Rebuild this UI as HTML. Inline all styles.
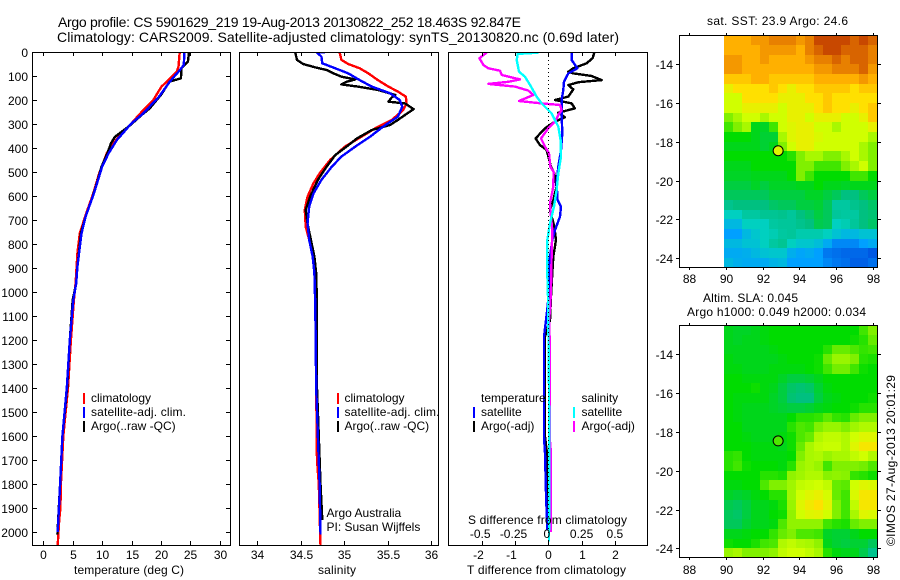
<!DOCTYPE html>
<html>
<head>
<meta charset="utf-8">
<title>Argo profile</title>
<style>
html,body{margin:0;padding:0;background:#fff;}
svg{display:block;}
text{font-family:"Liberation Sans",sans-serif;font-size:12px;fill:#000;}
</style>
</head>
<body>
<svg id="chart" width="900" height="580" viewBox="0 0 900 580" xmlns="http://www.w3.org/2000/svg">
  <defs>
    <clipPath id="clip-t"><rect x="32" y="52" width="199" height="493"/></clipPath>
    <clipPath id="clip-s"><rect x="239" y="52" width="200" height="493"/></clipPath>
    <clipPath id="clip-d"><rect x="448" y="52" width="200" height="493"/></clipPath>
    <clipPath id="clip-m1"><rect x="679" y="35" width="198" height="232"/></clipPath>
    <clipPath id="clip-m2"><rect x="679" y="325" width="198" height="232"/></clipPath>
  </defs>

  <text x="58" y="27" style="font-size:14px" textLength="463" lengthAdjust="spacing">Argo profile: CS 5901629_219 19-Aug-2013 20130822_252 18.463S 92.847E</text>
  <text x="57" y="42" style="font-size:14px" textLength="562" lengthAdjust="spacing">Climatology: CARS2009. Satellite-adjusted climatology: synTS_20130820.nc (0.69d later)</text>

  <g id="layer-maps"></g>
  <g id="layer-series"></g>
  <g id="layer-axes"></g>

  <text x="74" y="574" textLength="110" lengthAdjust="spacing">temperature (deg C)</text>
  <text x="318" y="574" textLength="38" lengthAdjust="spacing">salinity</text>
  <text x="467" y="574" textLength="159" lengthAdjust="spacing">T difference from climatology</text>
  <text x="468" y="524" textLength="159" lengthAdjust="spacing">S difference from climatology</text>

  <g>
    <rect x="83" y="393" width="2" height="11" fill="#f00"/>
    <text x="91" y="402">climatology</text>
    <rect x="83" y="407" width="2" height="11" fill="#00f"/>
    <text x="91" y="416" textLength="95" lengthAdjust="spacing">satellite-adj. clim.</text>
    <rect x="83" y="421" width="2" height="11" fill="#000"/>
    <text x="91" y="430">Argo(..raw -QC)</text>
  </g>
  <g>
    <rect x="337" y="393" width="2" height="11" fill="#f00"/>
    <text x="344.500" y="402">climatology</text>
    <rect x="337" y="407" width="2" height="11" fill="#00f"/>
    <text x="344.500" y="416" textLength="95" lengthAdjust="spacing">satellite-adj. clim.</text>
    <rect x="337" y="421" width="2" height="11" fill="#000"/>
    <text x="344.500" y="430">Argo(..raw -QC)</text>
  </g>
  <text x="326.500" y="517">Argo Australia</text>
  <text x="326.500" y="531">PI: Susan Wijffels</text>

  <g>
    <text x="481" y="402">temperature</text>
    <rect x="473" y="407" width="2" height="11" fill="#00f"/>
    <text x="481" y="416">satellite</text>
    <rect x="473" y="421" width="2" height="11" fill="#000"/>
    <text x="481" y="430">Argo(-adj)</text>
    <text x="581.500" y="402">salinity</text>
    <rect x="573" y="407" width="2" height="11" fill="#0ff"/>
    <text x="581.500" y="416">satellite</text>
    <rect x="573" y="421" width="2" height="11" fill="#f0f"/>
    <text x="581.500" y="430">Argo(-adj)</text>
  </g>

  <text x="707" y="25" textLength="141" lengthAdjust="spacing">sat. SST: 23.9 Argo: 24.6</text>
  <text x="703" y="302" textLength="95" lengthAdjust="spacing">Altim. SLA: 0.045</text>
  <text x="687" y="316" textLength="179" lengthAdjust="spacing">Argo h1000: 0.049 h2000: 0.034</text>
  <text transform="translate(895,546) rotate(-90)" textLength="171" lengthAdjust="spacing">©IMOS 27-Aug-2013 20:01:29</text>
</svg>

<script>
/* ---------- profile data ---------- */
const tempClimDepth = [0,61,82,117,144,200,242,297,339,381,422,506,589,672,756,839,964,1033,1200,1400,1600,1800,1900,1950,2055];
const tempClimValue = [23.2,23.0,22.7,21.3,20.1,18.7,17.0,15.0,13.3,11.9,10.8,9.5,8.5,7.3,6.2,5.8,5.5,5.2,4.7,4.2,3.4,3.0,2.9,2.7,2.45];
const tempArgoDepth = [0,40,68,110,123,179,235,263,311,353,381,422,478,547,617,686,756,825,894,964,1033,1200,1400,1600,1800,2010];
const tempArgoValue = [24.8,24.6,23.5,23.4,21.5,20.0,18.1,16.7,14.5,12.2,11.5,10.9,9.9,9.1,8.2,7.2,6.4,6.1,5.8,5.6,5.0,4.5,4.05,3.25,2.85,2.4];
const tempSatDepth = [0,54,82,124,186,256,297,367,422,478,589,686,756,894,964,1033,1200,1400,1600,1800,2000];
const tempSatValue = [24.0,23.9,23.0,21.5,19.7,17.0,15.0,12.5,11.1,10.0,8.6,7.2,6.5,5.8,5.6,5.1,4.5,4.0,3.25,2.85,2.45];

const salArgoDepth = [3,33,50,64,75,89,103,114,124,135,144,158,179,189,207,214,238,258,283,304,325,360,394,429,478,533,603,658,714,783,853,922,1061,1400,1600,1800,1950];
const salArgoValue = [34.44,34.46,34.53,34.67,34.80,34.88,34.97,35.13,35.03,34.97,35.16,35.39,35.59,35.55,35.51,35.70,35.80,35.72,35.62,35.53,35.32,35.15,35.03,34.90,34.80,34.70,34.61,34.56,34.58,34.62,34.66,34.68,34.69,34.69,34.71,34.73,34.75];
const salClimDepth = [3,33,50,68,89,117,144,165,186,214,242,283,318,353,394,450,506,547,603,658,728,783,853,922,1061,1400,1700,1800,2055];
const salClimValue = [34.95,34.97,35.05,35.18,35.28,35.39,35.51,35.62,35.71,35.72,35.68,35.55,35.36,35.20,35.01,34.84,34.72,34.65,34.58,34.55,34.56,34.60,34.64,34.66,34.67,34.68,34.69,34.71,34.73];
const salSatDepth = [0,2,19,47,68,89,117,144,172,200,228,269,311,353,394,436,478,533,589,644,714,783,853,922,1061,1400,1600,1800,2010];
const salSatValue = [34.79,34.69,34.74,34.75,34.90,35.05,35.18,35.32,35.53,35.64,35.67,35.62,35.45,35.30,35.13,34.97,34.86,34.74,34.65,34.60,34.58,34.60,34.64,34.66,34.67,34.68,34.70,34.72,34.73];

const diffTSatDepth = [3,33,68,89,124,158,200,256,339,408,478,547,617,644,686,742,783,853,922,992,1061,1117,1186,1603,1672,1839,1992];
const diffTSatValue = [0.70,0.70,0.87,0.60,0.47,0.45,0.40,0.40,0.42,0.38,0.30,0.25,0.28,0.38,0.35,0.20,0.12,0.05,0.02,0.02,-0.02,-0.07,-0.13,-0.13,-0.10,-0.07,-0.03];
const diffTArgoDepth = [3,26,47,68,82,89,100,117,126,138,156,186,200,214,235,253,272,290,318,360,388,408,478,506,561,617,658,728,783,853,922,1019,1117,1186,1603,1672,1839,1950];
const diffTArgoValue = [1.38,1.33,1.15,0.75,0.60,0.75,1.30,1.60,0.90,0.60,0.75,0.60,0.20,0.70,0.80,0.30,0.50,0.20,-0.10,-0.38,-0.25,-0.05,0.08,0.18,0.25,0.15,0.05,0.18,0.23,0.15,0.12,0.08,0.05,-0.10,-0.10,-0.04,-0.04,-0.04];
const diffSSatDepth = [3,8,33,82,103,144,186,214,256,311,367,436,506,575,644,714,783,922,1061,1117,1400,1800,2040];
const diffSSatValue = [-0.075,-0.23,-0.2375,-0.22,-0.175,-0.13,-0.0875,-0.05,0.025,0.075,0.0925,0.095,0.075,0.0625,0.0425,0.0125,-0.0075,-0.0075,0,0,0.005,0.0075,0.005];
const diffSArgoDepth = [3,8,26,54,68,78,96,114,124,133,144,161,179,204,214,221,242,263,290,318,360,394,422,478,499,561,631,686,742,853,978,1061,1117,1186,1603,1672,2000];
const diffSArgoValue = [-0.4625,-0.475,-0.5175,-0.4875,-0.45,-0.3625,-0.35,-0.2125,-0.30,-0.45,-0.25,-0.15,-0.1125,-0.22,-0.05,0.0875,0.10,0.075,0.05,0,-0.055,-0.025,0.005,0.015,0.04,0.0375,0.0125,0.02,0.03,0.025,0.02,0.015,0.005,0.01,0.01,0.02,0.02];

/* ---------- tick labels ---------- */
const depthTicks = [0,100,200,300,400,500,600,700,800,900,1000,1100,1200,1300,1400,1500,1600,1700,1800,1900,2000];
const tempTicks = [0,5,10,15,20,25,30];
const salTicks = [34,34.5,35,35.5,36];
const diffTTicks = [-2,-1,0,1,2];
const diffSTicks = [-0.5,-0.25,0,0.25,0.5];
const lonTicks = [88,90,92,94,96,98];
const latTicks = [14,16,18,20,22,24];

/* ---------- map data (colour index 0-10; rows north to south, 0.5 degree cells) ---------- */
const sstGrid = [
[8,8,8,8.5,8.5,9,9,9,8.5,9,10,10,10,10,9.5,10,9.5],
[8,8,8,8,8.5,8.5,8.5,8.5,8,9,9.5,10,10,9.5,9.5,9.5,9],
[8.5,8.5,8,8,8.5,8,8,8,8,8.5,9,9,9.5,9,9.5,9.5,9],
[8.5,8.5,8,8,8,8,8,8,8,8,8.5,8.5,9,9,9,9.5,8.5],
[7.5,7.5,7.5,8,8,7.5,7.5,7.5,7.5,7.5,8,8,8,8,8,8.5,8],
[6.5,7,7,7,7,7.5,7,6.5,7,7,7.5,7.5,7.5,7.5,7,7.5,7.5],
[6,6,7,7,7,7,6.5,6.5,6.5,7,7,7.5,7,7,7,7,7],
[6,6,6.5,6.5,6.5,6.5,6,6.5,6.5,6.5,7,7.5,7,7,6.5,7,7.5],
[5,5.5,6,6,5.5,6,6,6.5,6.5,6,6.5,6.5,6.5,6,6,6.5,7.5],
[4.5,5,5.5,3.8,3.7,4.5,6,6.3,6.5,6.5,6,6,5.5,6,6,6,6.5],
[4,4,4,3.8,3.6,3.6,5.5,6.3,6.5,6.5,6.2,6,6,6,6,6,5.5],
[3.8,3.8,3.8,3.8,3.6,3.8,5,6,6.5,6.5,6,6,6,6,6,5.5,5],
[4,4,4,4,4,4,4,4.3,5,5.5,5.5,5,5,5.5,6,5.5,5],
[3.8,3.8,3.8,4,4,4,4,4,5,5,4.5,4.5,4.5,5,5.5,6,5],
[3.7,3.7,3.7,3.8,3.8,3.8,3.8,4,5,4.5,4,4,4,4,4.5,4.5,4],
[3.5,3.5,3.5,3.7,3.5,3.7,3.7,3.7,3.8,3.8,4,3.8,3.8,3.7,3.8,3.8,3.8],
[3.3,3.3,3.3,3.3,3.3,3.5,3.5,3.5,3.5,3.7,3.7,3.5,3.3,3,3,3.3,3.5],
[2.8,3,3,3,3,3.2,3.3,3.3,3.5,3.5,3.6,3.3,2.5,2.5,2.8,3,3.2],
[2,2,2.5,2.5,2.7,2.7,2.8,2.6,3,3.2,3.5,3.3,2.6,2.5,2.5,3,3.1],
[1.5,1.5,2,2,2,2.5,2.6,2.6,2.8,3,3.4,3.3,2,2.2,2.6,3,3.2],
[1,1,1.5,1.8,2,2.2,2.5,2.6,2.3,2.3,2.3,2,1.7,1.5,1.5,1.7,1.7],
[1.5,1.5,1.7,1.7,2,2.5,2.7,2,1.8,1.8,1.6,1.2,0.7,0.7,0.7,1,1.2],
[1.2,1.2,1.3,1.5,1.7,1.8,1.8,1.3,1.1,1.2,1,0.5,0.4,0.3,0.3,0.3,0.1],
[1.5,1.3,1.2,1.2,1.2,1.4,1.5,1,1,1,1,0.7,0.5,0.4,0.2,0.2,0.4]
];
const slaGrid = [
[3.8,3.7,3.7,3.8,3.9,4,4,4,4,4,4,4,4,4,4,4.5,5],
[3.8,3.7,3.8,3.8,3.9,4,4,4,4,4,4,4,4,4,4.1,4.3,4.8],
[3.8,3.8,3.8,3.8,3.8,3.9,4,4,4,4,4,4.3,4.8,4.8,4.6,4.4,4.5],
[3.9,3.8,3.8,3.8,3.8,3.8,3.9,4,4,4,4.1,4.8,5.3,5.3,5,4.3,4.2],
[3.9,3.9,3.8,3.8,3.8,3.9,3.9,3.9,3.9,4,4.1,4.5,4.9,4.9,4.5,4.1,4],
[4,4,3.9,3.9,3.9,3.9,3.7,3.5,3.5,3.6,3.8,4,4,4,4,4,4],
[4,4,4,4.1,3.9,3.8,3.5,3.2,3.1,3.2,3.6,3.9,4,4,4,4,4],
[4,3.9,3.9,3.9,3.9,3.7,3.5,3.1,3,3,3.5,3.8,3.9,4,4,4,4.1],
[4,3.9,3.8,3.8,3.8,3.7,3.6,3.5,3.5,3.6,3.8,3.9,4,4,4.1,4.3,4.3],
[4,3.9,3.8,3.8,3.8,3.8,3.8,4,4.3,4.3,4.4,4.7,4.4,4.3,4.8,5,5],
[4,4,3.8,3.8,3.8,3.8,3.8,4.3,4.6,4.5,5,5.3,5.3,5,5.4,5.6,5.6],
[4,4,3.9,3.8,3.8,3.8,3.9,4.1,4.6,4.8,5.6,5.8,5.8,5.6,6,6.3,6.3],
[4,4,4,3.9,3.9,3.9,3.8,4.1,4.8,5.5,5.8,5.9,5.9,5.6,6.3,6.8,6.8],
[4.3,4.4,4,3.9,3.9,3.9,3.9,4,5,5.5,5.6,5.3,5.5,5.5,5.8,6,5.6],
[4.3,4.5,4.1,4,4,4,3.9,4.3,5.3,5.5,5.3,4.5,5,5,5,4.9,4.6],
[4,4,4,4,4.3,4.3,4.2,5.2,5.4,5.6,5.6,5.1,5.2,5.1,4.4,4.3,4.1],
[3.9,3.9,4,4,4.6,5,5,5.4,5.8,5.9,6,5.8,4.8,4.7,6,6.3,6.2],
[3.7,3.6,3.7,3.9,4,4.3,4.3,5.4,6,6.3,6.5,6.1,4.8,4.5,6.2,6.8,6.8],
[3.4,3.3,3.5,3.8,3.8,3.9,4.2,5.3,6.3,6.7,7,6.4,5,4.5,5.8,6.8,6.8],
[3.3,3.2,3.5,3.8,3.8,4,4.1,5.2,6,6.3,6.4,6,5,4.5,5.5,6.3,6.2],
[3.3,3.3,3.6,3.8,3.8,3.9,4.6,5.2,5.2,5.2,5.2,4.5,4.3,4.2,4.8,5,5],
[3.8,3.8,3.9,4,4,4.4,4.8,5,4.6,4.6,4.5,3.7,3.6,3.6,3.8,4,4],
[4.1,4,4,4.2,4.5,4.6,5.6,5.8,5.6,5.5,5.2,3.8,3.6,3.5,3.6,3.6,3.3],
[5.3,5.5,5,5,5,5.2,5.8,6,6,5.8,5.5,4.3,3.9,3.8,3.8,3.4,2.8]
];
const argoLon = [92.847];
const argoLat = [18.463];
const argoSstIndex = [6.3];
const argoSlaIndex = [4.6];

/* ---------- axis functions ---------- */
const NS = 'http://www.w3.org/2000/svg';
const yDepth = d => 52 + d * 0.24;
const xTemp = v => 43.3 + v * 5.88;
const xSal = v => 257 + (v - 34) * 87;
const xDiffT = v => 548.3 + v * 33.3;
const xDiffS = v => 548.3 + v * 133.2;
const xLon = v => 689.3 + (v - 88) * 18.33;
const yLat1 = v => 64.3 + (v - 14) * 19.37;
const yLat2 = v => 354.3 + (v - 14) * 19.4;
const LON_START = 89.9, LON_STEP = 0.49, LAT_START = 12.5, LAT_STEP = 0.5;

const paletteStops = [[0,0,80,224],[1,0,160,255],[2,0,208,192],[3,0,192,128],[4,0,220,0],[5,128,240,0],[6,208,255,0],[7,255,224,0],[8,255,176,0],[9,232,128,0],[10,200,72,0]];
function paletteColor(v) {
  const c = Math.max(0, Math.min(10, v));
  const i = Math.min(9, Math.floor(c));
  const f = c - i;
  const a = paletteStops[i], b = paletteStops[i + 1];
  return 'rgb(' + [1,2,3].map(k => Math.round(a[k] + (b[k] - a[k]) * f)).join(',') + ')';
}

const layerMaps = document.getElementById('layer-maps');
const layerSeries = document.getElementById('layer-series');
const layerAxes = document.getElementById('layer-axes');

function make(tag, parent, props) {
  const el = document.createElementNS(NS, tag);
  for (const k in props) el.setAttribute(k, props[k]);
  parent.appendChild(el);
  return el;
}

function drawProfile(parent, clip, name, color, xFn, values, depths) {
  const pts = values.map((v, i) => xFn(v).toFixed(1) + ',' + yDepth(depths[i]).toFixed(1)).join(' ');
  const line = make('polyline', parent, {points: pts, fill: 'none', stroke: color, 'stroke-width': 2.4, 'clip-path': 'url(#' + clip + ')', 'stroke-linejoin': 'round', 'shape-rendering': 'crispEdges'});
  
  
}

function drawTick(x1, y1, x2, y2) {
  const t = make('line', layerAxes, {x1: x1, y1: y1, x2: x2, y2: y2, stroke: '#000', 'stroke-width': 1, 'shape-rendering': 'crispEdges'});
  
  
}

function drawLabel(x, y, anchor, str) {
  const t = make('text', layerAxes, {x: x, y: y, 'text-anchor': anchor});
  t.textContent = str;
  
  
}

function drawFrame(x, y, w, h) {
  const f = make('rect', layerAxes, {x: x, y: y, width: w, height: h, fill: 'none', stroke: '#000', 'stroke-width': 1, 'shape-rendering': 'crispEdges'});
  
  
}

function drawMap(grid, yFn, clip, markerIndex, name) {
  grid.forEach((row, r) => {
    row.forEach((v, c) => {
      const x0 = Math.round(xLon(LON_START + c * LON_STEP));
      const x1 = Math.round(xLon(LON_START + (c + 1) * LON_STEP));
      const y0 = Math.round(yFn(LAT_START + r * LAT_STEP));
      const y1 = Math.round(yFn(LAT_START + (r + 1) * LAT_STEP));
      const cell = make('rect', layerMaps, {x: x0, y: y0, width: x1 - x0, height: y1 - y0, fill: paletteColor(v), 'clip-path': 'url(#' + clip + ')', 'shape-rendering': 'crispEdges'});
      
      
    });
  });
  const marker = make('circle', layerAxes, {cx: xLon(argoLon[0]), cy: yFn(argoLat[0]), r: 5, fill: paletteColor(markerIndex), stroke: '#000', 'stroke-width': 1});
  
  
}

/* ---------- maps ---------- */
drawMap(sstGrid, yLat1, 'clip-m1', argoSstIndex[0], 'sst-map');
drawMap(slaGrid, yLat2, 'clip-m2', argoSlaIndex[0], 'sla-map');

/* ---------- profile series ---------- */
drawProfile(layerSeries, 'clip-t', 'temperature-climatology-line', '#f00', xTemp, tempClimValue, tempClimDepth);
drawProfile(layerSeries, 'clip-t', 'temperature-argo-line', '#000', xTemp, tempArgoValue, tempArgoDepth);
drawProfile(layerSeries, 'clip-t', 'temperature-satellite-line', '#00f', xTemp, tempSatValue, tempSatDepth);

drawProfile(layerSeries, 'clip-s', 'salinity-climatology-line', '#f00', xSal, salClimValue, salClimDepth);
drawProfile(layerSeries, 'clip-s', 'salinity-argo-line', '#000', xSal, salArgoValue, salArgoDepth);
drawProfile(layerSeries, 'clip-s', 'salinity-satellite-line', '#00f', xSal, salSatValue, salSatDepth);

drawProfile(layerSeries, 'clip-d', 'diff-t-argo-line', '#000', xDiffT, diffTArgoValue, diffTArgoDepth);
drawProfile(layerSeries, 'clip-d', 'diff-t-satellite-line', '#00f', xDiffT, diffTSatValue, diffTSatDepth);
drawProfile(layerSeries, 'clip-d', 'diff-s-argo-line', '#f0f', xDiffS, diffSArgoValue, diffSArgoDepth);
drawProfile(layerSeries, 'clip-d', 'diff-s-satellite-line', '#0ff', xDiffS, diffSSatValue, diffSSatDepth);

const zeroLine = make('line', layerSeries, {x1: xDiffT(0), y1: yDepth(0), x2: xDiffT(0), y2: 545, stroke: '#000', 'stroke-width': 1, 'stroke-dasharray': '1 3', 'shape-rendering': 'crispEdges'});



/* ---------- axes ---------- */
drawFrame(32.5, 52.5, 198, 493);
drawFrame(239.5, 52.5, 199, 493);
drawFrame(448.5, 52.5, 199, 493);
drawFrame(679.5, 35.5, 198, 232);
drawFrame(679.5, 325.5, 198, 232);

depthTicks.forEach(d => {
  const y = Math.round(yDepth(d)) + 0.5;
  drawTick(32, y, 37, y);
  drawTick(226, y, 231, y);
  drawLabel(28, y + 4.5, 'end', String(d));
});
tempTicks.forEach(v => {
  const x = Math.round(xTemp(v)) + 0.5;
  drawTick(x, 52, x, 56);
  drawTick(x, 541, x, 545);
  drawLabel(x, 559, 'middle', String(v));
});
salTicks.forEach(v => {
  const x = Math.round(xSal(v)) + 0.5;
  drawTick(x, 52, x, 56);
  drawTick(x, 541, x, 545);
  drawLabel(x, 559, 'middle', String(v));
});
diffTTicks.forEach(v => {
  const x = Math.round(xDiffT(v)) + 0.5;
  drawTick(x, 52, x, 56);
  drawTick(x, 541, x, 545);
  drawLabel(x - (v < 0 ? 4 : 0), 559, 'middle', String(v));
});
diffSTicks.forEach(v => {
  drawLabel(xDiffS(v) - (v <= 0 ? 1.5 : 0), 538, 'middle', String(v));
});
[[36, 267, 283, yLat1, 64], [326, 557, 574, yLat2, 354]].forEach(cfg => {
  lonTicks.forEach(v => {
    const x = Math.round(xLon(v)) + 0.5;
    drawTick(x, cfg[0] - 3, x, cfg[0]);
    drawTick(x, cfg[1], x, cfg[1] + 3);
    drawLabel(x, cfg[2], 'middle', String(v));
  });
  latTicks.forEach(v => {
    const y = Math.round(cfg[3](v)) + 0.5;
    drawTick(676, y, 679, y);
    drawTick(878, y, 881, y);
    drawLabel(673, y + 4.5, 'end', '-' + v);
  });
});
</script>
</body>
</html>
